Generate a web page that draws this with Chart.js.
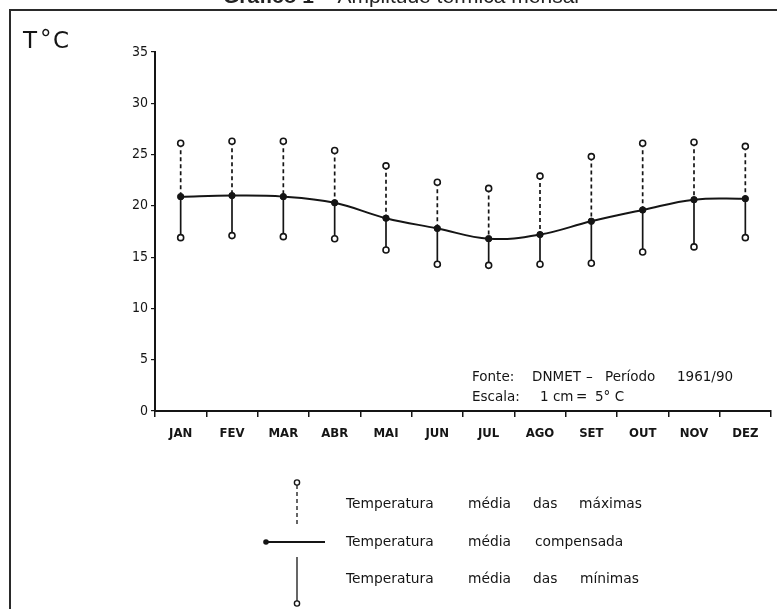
<!DOCTYPE html>
<html>
<head>
<meta charset="utf-8">
<script src="https://cdn.jsdelivr.net/npm/chart.js@4"></script>
<style>
  html, body { margin: 0; padding: 0; background: #fff; }
  #wrap { width: 777px; height: 609px; }
</style>
</head>
<body>
<div id="wrap"><canvas id="grafico" width="777" height="609"></canvas></div>
<script>
// dados (°C)
const meses = ['JAN', 'FEV', 'MAR', 'ABR', 'MAI', 'JUN', 'JUL', 'AGO', 'SET', 'OUT', 'NOV', 'DEZ'];
const tempMax = [26.1, 26.3, 26.3, 25.4, 23.9, 22.3, 21.7, 22.9, 24.8, 26.1, 26.2, 25.8];
const tempMedia = [20.9, 21.0, 20.9, 20.3, 18.8, 17.8, 16.8, 17.2, 18.5, 19.6, 20.6, 20.7];
const tempMin = [16.9, 17.1, 17.0, 16.8, 15.7, 14.3, 14.2, 14.3, 14.4, 15.5, 16.0, 16.9];
const yTicks = [0, 5, 10, 15, 20, 25, 30, 35];

const tinta = '#151515';
const fonteTexto = '"DejaVu Sans", sans-serif';
const fonteEixo = '"Liberation Sans Narrow", "DejaVu Sans Condensed", sans-serif';

// hastes: tracejada da média até a máxima, contínua da média até a mínima
const hastes = {
    id: 'hastes',
    beforeDatasetsDraw(chart) {
        const { ctx, scales: { x, y } } = chart;
        ctx.save();
        ctx.strokeStyle = tinta;
        ctx.lineWidth = 1.7;
        for (let i = 0; i < meses.length; i++) {
            const px = x.getPixelForValue(i);
            ctx.setLineDash([4, 3]);
            ctx.beginPath();
            ctx.moveTo(px, y.getPixelForValue(tempMax[i]));
            ctx.lineTo(px, y.getPixelForValue(tempMedia[i]));
            ctx.stroke();
            ctx.setLineDash([]);
            ctx.beginPath();
            ctx.moveTo(px, y.getPixelForValue(tempMedia[i]));
            ctx.lineTo(px, y.getPixelForValue(tempMin[i]));
            ctx.stroke();
        }
        ctx.restore();
    }
};

function palavras(ctx, lista, y) {
    lista.forEach(([t, px]) => ctx.fillText(t, px, y));
}

// moldura, título, textos e legenda desenhada
const extras = {
    id: 'extras',
    afterDraw(chart) {
        const ctx = chart.ctx;
        ctx.save();

        // moldura
        ctx.strokeStyle = '#2a2a2a';
        ctx.lineWidth = 2;
        ctx.beginPath();
        ctx.moveTo(10, 609);
        ctx.lineTo(10, 10);
        ctx.lineTo(777, 10);
        ctx.stroke();

        // título (cortado no topo)
        const fTitulo = '21px "Liberation Sans", Arial, sans-serif';
        ctx.fillStyle = '#222';
        ctx.textBaseline = 'alphabetic';
        ctx.font = 'bold ' + fTitulo;
        const t1 = 'Gráfico 1';
        const w1 = ctx.measureText(t1).width;
        ctx.font = fTitulo;
        const t2 = ' – Amplitude térmica mensal';
        const w2 = ctx.measureText(t2).width;
        const tx = 401 - (w1 + w2) / 2;
        ctx.font = 'bold ' + fTitulo;
        ctx.fillText(t1, tx, 3);
        ctx.font = fTitulo;
        ctx.fillText(t2, tx + w1, 3);

        // unidade
        ctx.fillStyle = tinta;
        ctx.textBaseline = 'middle';
        ctx.font = '23px ' + fonteTexto;
        ctx.fillText('T', 23, 42);
        ctx.fillText('°', 40, 40);
        ctx.fillText('C', 53, 42);

        // fonte e escala
        ctx.font = '13.5px ' + fonteTexto;
        palavras(ctx, [['Fonte:', 472], ['DNMET', 532], ['–', 586], ['Período', 605], ['1961/90', 677]], 377);
        palavras(ctx, [['Escala:', 472], ['1 cm', 540], ['=', 576], ['5° C', 595]], 397);

        // legenda
        ctx.font = '13.8px ' + fonteTexto;
        palavras(ctx, [['Temperatura', 346], ['média', 468], ['das', 533], ['máximas', 579]], 504);
        palavras(ctx, [['Temperatura', 346], ['média', 468], ['compensada', 535]], 542);
        palavras(ctx, [['Temperatura', 346], ['média', 468], ['das', 533], ['mínimas', 580]], 579);

        const lx = 297;
        ctx.strokeStyle = tinta;
        ctx.lineWidth = 1.3;
        ctx.setLineDash([4, 3]);
        ctx.beginPath();
        ctx.moveTo(lx, 485);
        ctx.lineTo(lx, 524);
        ctx.stroke();
        ctx.setLineDash([]);
        ctx.beginPath();
        ctx.moveTo(lx, 557);
        ctx.lineTo(lx, 601);
        ctx.stroke();
        ctx.fillStyle = '#fff';
        ctx.lineWidth = 1.4;
        [482.5, 603.5].forEach(cy => {
            ctx.beginPath();
            ctx.arc(lx, cy, 2.6, 0, Math.PI * 2);
            ctx.fill();
            ctx.stroke();
        });
        ctx.lineWidth = 2.2;
        ctx.beginPath();
        ctx.moveTo(265, 542);
        ctx.lineTo(325, 542);
        ctx.stroke();
        ctx.fillStyle = tinta;
        ctx.beginPath();
        ctx.arc(266, 542, 2.8, 0, Math.PI * 2);
        ctx.fill();

        ctx.restore();
    }
};

const ctx = document.getElementById('grafico').getContext('2d');
new Chart(ctx, {
    type: 'line',
    data: {
        labels: meses,
        datasets: [
            {
                label: 'Temperatura média compensada',
                data: tempMedia,
                borderColor: tinta,
                borderWidth: 2,
                tension: 0.4,
                pointRadius: 3.2,
                pointBackgroundColor: tinta,
                pointBorderColor: tinta,
                pointBorderWidth: 1,
                fill: false
            },
            {
                label: 'Temperatura média das máximas',
                data: tempMax,
                showLine: false,
                pointRadius: 3,
                pointBackgroundColor: '#fff',
                pointBorderColor: tinta,
                pointBorderWidth: 1.6
            },
            {
                label: 'Temperatura média das mínimas',
                data: tempMin,
                showLine: false,
                pointRadius: 3,
                pointBackgroundColor: '#fff',
                pointBorderColor: tinta,
                pointBorderWidth: 1.6
            }
        ]
    },
    options: {
        responsive: false,
        animation: false,
        layout: { padding: { left: 0, top: 52, right: 6, bottom: 0 } },
        plugins: {
            legend: { display: false },
            tooltip: { enabled: false },
            title: { display: false }
        },
        scales: {
            x: {
                offset: true,
                grid: {
                    display: true,
                    offset: true,
                    drawOnChartArea: false,
                    drawTicks: true,
                    tickLength: 6,
                    color: tinta,
                    lineWidth: 1.5
                },
                border: { display: true, color: tinta, width: 2 },
                ticks: {
                    color: tinta,
                    padding: 9,
                    font: { family: fonteEixo, size: 13, weight: 'bold' }
                },
                afterFit(s) { s.height = 198; }
            },
            y: {
                min: 0,
                max: 35,
                afterBuildTicks(s) { s.ticks = yTicks.map(v => ({ value: v })); },
                grid: {
                    display: true,
                    drawOnChartArea: false,
                    drawTicks: true,
                    tickLength: 4,
                    color: tinta,
                    lineWidth: 1.2
                },
                border: { display: true, color: tinta, width: 2 },
                ticks: {
                    color: tinta,
                    padding: 3,
                    font: { family: fonteEixo, size: 14 }
                },
                afterFit(s) { s.width = 155; }
            }
        }
    },
    plugins: [hastes, extras]
});
</script>
</body>
</html>
